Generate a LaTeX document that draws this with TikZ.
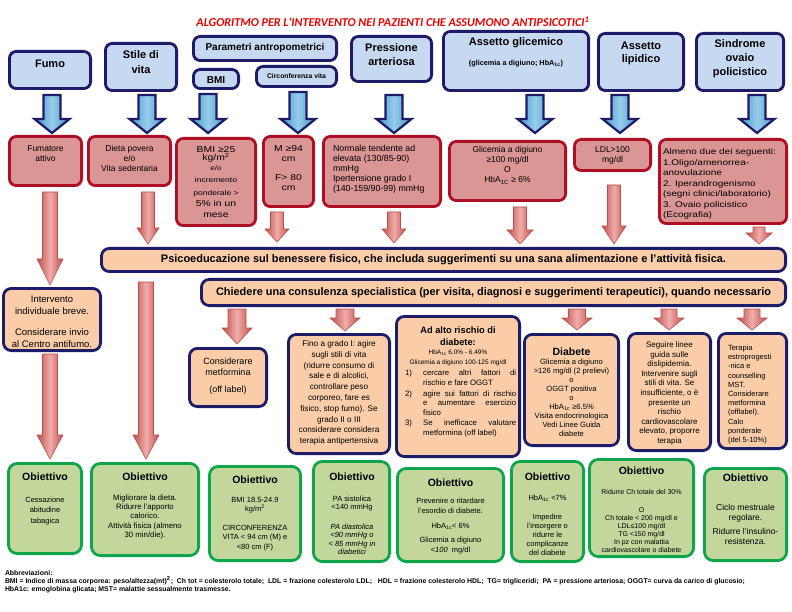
\documentclass[tikz,border=0pt]{standalone}
\usepackage{fontspec}
\setmainfont{Liberation Sans}
\newfontfamily\titlefont{Carlito}
\newfontfamily\widefont[FakeStretch=1.22]{Liberation Sans}
\usepackage{graphicx}
\newcommand\fsz[2]{\fontsize{#1}{#2}\selectfont}
\newlength\abw
\definecolor{navy}{RGB}{28,28,105}
\definecolor{bluef}{RGB}{198,217,241}
\definecolor{blA}{RGB}{70,150,200}
\definecolor{blB}{RGB}{150,205,235}
\definecolor{redb}{RGB}{175,15,35}
\definecolor{redf}{RGB}{218,150,148}
\definecolor{raA}{RGB}{190,78,75}
\definecolor{raB}{RGB}{240,172,168}
\definecolor{peach}{RGB}{250,205,168}
\definecolor{greenf}{RGB}{195,214,155}
\definecolor{greenb}{RGB}{15,165,75}
\definecolor{titred}{RGB}{235,0,0}
\newcommand\abtext{BMI = Indice di massa corporea: peso/altezza(mt)\textsuperscript{2}; \ Ch tot = colesterolo totale; \ LDL = frazione colesterolo LDL; \ \ HDL = frazione colesterolo HDL; \ TG= trigliceridi; \ PA = pressione arteriosa; OGGT= curva da carico di glucosio;}
% box: style, name, x1, y1, x2, y2 (outer edges, image pixels)
\newcommand\BX[6]{\node[#1, minimum width={(#5-#3-2.8)*1pt}, minimum height={(#6-#4-2.8)*1pt}] (#2) at ({(#3+#5)/2},{(#4+#6)/2}) {};}
% block arrow: style, x, ytop, ytip, shaft half, head half, head length
\newcommand\BA[7]{\path[#1] ({#2-#5},#3) -- ({#2+#5},#3) -- ({#2+#5},{#4-#7}) -- ({#2+#6},{#4-#7}) -- (#2,#4) -- ({#2-#6},{#4-#7}) -- ({#2-#5},{#4-#7}) -- cycle;}
\begin{document}
\settowidth\abw{\bfseries\fsz{6}{7}\abtext}
\pgfmathsetmacro\absc{740/\abw}
\begin{tikzpicture}[x=1pt,y=-1pt,
  bbox/.style={draw=navy, fill=bluef, line width=2.8pt, rounded corners=7pt, inner sep=0pt},
  rbox/.style={draw=redb, fill=redf, line width=2.8pt, rounded corners=7pt, inner sep=0pt},
  pbox/.style={draw=navy, fill=peach, line width=2.8pt, rounded corners=8pt, inner sep=0pt},
  gbox/.style={draw=greenb, fill=greenf, line width=2.8pt, rounded corners=9pt, inner sep=0pt},
  barrow/.style={draw=navy, line width=2.2pt, line join=miter, left color=blA, right color=blA, middle color=blB},
  rarrow/.style={draw=raA, line width=0.6pt, line join=miter, left color=raA, right color=raA, middle color=raB},
  tx/.style={inner sep=0pt, outer sep=0pt, align=center, text=black},
  obj/.style={tx, font=\bfseries\fsz{10.5}{12}}]
\useasboundingbox (0,0) rectangle (792,612);
\fill[white] (0,0) rectangle (792,612);

% title
\node[tx, text=titred] (title) at (393,22) {\resizebox{393pt}{!}{\titlefont\bfseries\itshape ALGORITMO PER L'INTERVENTO NEI PAZIENTI CHE ASSUMONO ANTIPSICOTICI\textsuperscript{1}}};

% top row
\BX{bbox}{T1}{8}{50}{92}{90}
\BX{bbox}{T2}{104}{42}{178}{92}
\BX{bbox}{T3}{192}{35}{338}{62}
\BX{bbox}{T4}{192}{68}{240}{90}
\BX{bbox}{T5}{255}{65}{338}{88}
\BX{bbox}{T6}{350}{35}{433}{83}
\BX{bbox}{T7}{442}{30}{590}{92}
\BX{bbox}{T8}{597}{32}{685}{92}
\BX{bbox}{T9}{695}{32}{785}{92}
\node[tx,font=\bfseries\fsz{11}{14}] (t1) at (50,64) {Fumo};
\node[tx,font=\bfseries\fsz{11}{15}] (t2) at (141,62.5) {Stile di\\vita};
\node[tx,font=\bfseries\fsz{10}{12}] (t3) at (265,48) {Parametri antropometrici};
\node[tx,font=\bfseries\fsz{10}{12}] (t4) at (216,80) {BMI};
\node[tx,font=\bfseries\fsz{6.8}{8}] (t5) at (296.5,76) {Circonferenza vita};
\node[tx,font=\bfseries\fsz{11}{14}] (t6) at (391.5,55) {Pressione\\arteriosa};
\node[tx,font=\bfseries\fsz{11}{13}] (t7) at (516,43) {Assetto glicemico};
\node[tx,font=\bfseries\fsz{7.3}{8}] (t7b) at (516,64) {(glicemia a digiuno; HbA\textsubscript{1c})};
\node[tx,font=\bfseries\fsz{11}{13.5}] (t8) at (641,53.5) {Assetto\\lipidico};
\node[tx,font=\bfseries\fsz{11}{14}] (t9) at (740,59) {Sindrome\\ovaio\\policistico};

% blue arrows
\BA{barrow}{52}{95}{133}{8.5}{17.5}{14}
\BA{barrow}{147}{95}{133}{8.5}{17.5}{14}
\BA{barrow}{208}{94}{133}{8.5}{17.5}{14}
\BA{barrow}{298}{92}{133}{8.5}{17.5}{14}
\BA{barrow}{394}{95}{133}{8.5}{17.5}{14}
\BA{barrow}{535}{95}{133}{8.5}{17.5}{14}
\BA{barrow}{620}{95}{133}{8.5}{17.5}{14}
\BA{barrow}{757}{95}{133}{8.5}{17.5}{14}

% red row
\BX{rbox}{R1}{8}{135}{83}{187}
\BX{rbox}{R2}{87}{135}{172}{187}
\BX{rbox}{R3}{175}{137}{257}{227}
\BX{rbox}{R4}{262}{135}{315}{208}
\BX{rbox}{R5}{322}{135}{442}{208}
\BX{rbox}{R6}{448}{140}{567}{202}
\BX{rbox}{R7}{573}{138}{652}{172}
\BX{rbox}{R8}{658}{138}{788}{225}
\node[tx,anchor=north,font=\fsz{8.5}{9.8}] (r1) at (45.5,145.6) {Fumatore\\attivo};
\node[tx,anchor=north,font=\fsz{8.5}{9.8}] (r2) at (129.5,145.6) {Dieta povera\\e/o\\Vita sedentaria};
\node[tx,anchor=north,font=\widefont\fsz{8.5}{10}] (r3) at (216,146.6) {BMI ≥25\\[-2pt]kg/m\textsuperscript{2}\\{\fsz{6.5}{8}e/o}\\[2pt]{\fsz{7}{9}incremento}\\[3pt]{\fsz{7}{9}ponderale >}\\[1pt]5\% in un\\[1pt]mese};
\node[tx,anchor=north,font=\widefont\fsz{8.5}{9.5}] (r4) at (288.5,145.6) {M ≥94\\cm\\[10pt]F> 80\\cm};
\node[tx,anchor=north west,align=left,font=\fsz{8.8}{10}] (r5) at (333,145.6) {Normale tendente ad\\elevata (130/85-90)\\mmHg\\Ipertensione grado I\\(140-159/90-99) mmHg};
\node[tx,anchor=north,font=\fsz{8.5}{10}] (r6) at (507.5,146.6) {Glicemia a digiuno\\≥100 mg/dl\\O\\HbA\textsubscript{1C} ≥ 6\%};
\node[tx,anchor=north,font=\fsz{8.5}{10}] (r7) at (612.5,146.6) {LDL>100\\mg/dl};
\node[tx,anchor=north west,align=left,font=\widefont\fsz{8.2}{10.5}] (r8) at (663,148.6) {Almeno due dei seguenti:\\1.Oligo/amenorrea-\\anovulazione\\2. Iperandrogenismo\\(segni clinici/laboratorio)\\3. Ovaio policistico\\(Ecografia)};

% bars
\BX{pbox}{P1}{100}{247}{787}{273}
\BX{pbox}{P2}{200}{278}{787}{307}
\node[tx] (p1t) at (P1) {\resizebox{565pt}{!}{\bfseries Psicoeducazione sul benessere fisico, che includa suggerimenti su una sana alimentazione e l'attività fisica.}};
\node[tx] (p2t) at (P2) {\resizebox{555pt}{!}{\bfseries Chiedere una consulenza specialistica (per visita, diagnosi e suggerimenti terapeutici), quando necessario}};

% second row
\BX{pbox}{S0}{2}{287}{102}{352}
\BX{pbox}{S1}{188}{347}{268}{408}
\BX{pbox}{S2}{287}{333}{391}{455}
\BX{pbox}{S3}{395}{315}{521}{458}
\BX{pbox}{S4}{523}{333}{620}{447}
\BX{pbox}{S5}{627}{332}{712}{452}
\BX{pbox}{S6}{717}{332}{788}{450}
\node[tx,anchor=north,font=\fsz{9.5}{12}] (s0) at (52,296.2) {Intervento\\individuale breve.\\[9pt]Considerare invio\\al Centro antifumo.};
\node[tx,anchor=north,font=\fsz{9}{10.5}] (s1) at (228,358.4) {Considerare\\metformina\\[6.5pt](off label)};
\node[tx,anchor=north,font=\fsz{8.2}{10.8}] (s2) at (339,340.5) {Fino a grado I: agire\\sugli stili di vita\\(ridurre consumo di\\sale e di alcolici,\\controllare peso\\corporeo, fare es\\fisico, stop fumo). Se\\grado II o III\\considerare considera\\terapia antipertensiva};
\node[tx,anchor=north,font=\bfseries\fsz{9.3}{12}] (s3a) at (458,326.3) {Ad alto rischio di\\diabete:};
\node[tx,anchor=north,font=\fsz{6.5}{10}] (s3b) at (458,349.4) {HbA\textsubscript{1c} 6.0\% - 6.49\%\\Glicemia a digiuno 100-125 mg/dl};
\node[tx,anchor=north west,font=\fsz{7.8}{9.8}] (n1) at (405,369.9) {1)};
\node[tx,anchor=north west,font=\fsz{7.8}{9.8}] (n2) at (405,390.9) {2)};
\node[tx,anchor=north west,font=\fsz{7.8}{9.8}] (n3) at (405,419.9) {3)};
\node[anchor=north west,inner sep=0pt,text width=93pt,align=justify,font=\fsz{7.8}{9.5}] (l1) at (423,369.9) {cercare altri fattori di\linebreak rischio e fare OGGT};
\node[anchor=north west,inner sep=0pt,text width=93pt,align=justify,font=\fsz{7.8}{9.2}] (l2) at (423,390.9) {agire sui fattori di rischio\linebreak e aumentare esercizio\linebreak fisico};
\node[anchor=north west,inner sep=0pt,text width=93pt,align=justify,font=\fsz{7.8}{10}] (l3) at (423,419.9) {Se inefficace valutare\linebreak metformina (off label)};
\node[tx,anchor=north,font=\bfseries\fsz{10.5}{12}] (s4a) at (571.5,347.8) {Diabete};
\node[tx,anchor=north,font=\fsz{7.6}{9}] (s4b) at (571.5,359) {Glicemia a digiuno\\>126 mg/dl (2 prelievi)\\o\\OGGT positiva\\o\\HbA\textsubscript{1c} ≥6.5\%\\Visita endocrinologica\\Vedi Linee Guida\\diabete};
\node[tx,anchor=north,font=\fsz{8}{9.6}] (s5) at (669.5,341.8) {Seguire linee\\guida sulle\\dislipidemia.\\Intervenire sugli\\stili di vita. Se\\insufficiente, o è\\presente un\\rischio\\cardiovascolare\\elevato, proporre\\terapia};
\node[tx,anchor=north west,align=left,font=\fsz{7.5}{9.2}] (s6) at (728,345) {Terapia\\estroprogesti\\-nica e\\counselling\\MST.\\Considerare\\metformina\\(offlabel).\\Calo\\ponderale\\(del 5-10\%)};

% red arrows
\BA{rarrow}{50}{192}{285}{7.5}{13}{26}
\BA{rarrow}{148}{192}{244}{6.5}{11}{16}
\BA{rarrow}{277}{212}{242}{6.5}{12}{13}
\BA{rarrow}{394}{212}{243}{6.5}{12}{14}
\BA{rarrow}{520}{207}{244}{6.5}{13}{14}
\BA{rarrow}{614}{185}{244}{6.5}{12}{18}
\BA{rarrow}{759}{227}{244}{6}{13}{11}
\BA{rarrow}{146}{282}{459}{7.5}{13}{24}
\BA{rarrow}{50}{354}{459}{7.5}{13}{24}
\BA{rarrow}{237}{309}{344}{9}{15}{16}
\BA{rarrow}{345}{309}{331}{9}{15}{13}
\BA{rarrow}{577}{309}{330}{8.5}{15}{12}
\BA{rarrow}{669}{309}{330}{8}{15}{12}
\BA{rarrow}{752}{309}{330}{8}{15}{12}

% green row
\BX{gbox}{G1}{7}{462}{83}{555}
\BX{gbox}{G2}{90}{462}{200}{557}
\BX{gbox}{G3}{208}{465}{302}{562}
\BX{gbox}{G4}{312}{460}{391}{563}
\BX{gbox}{G5}{396}{467}{505}{563}
\BX{gbox}{G6}{510}{460}{585}{563}
\BX{gbox}{G7}{588}{458}{695}{558}
\BX{gbox}{G8}{703}{467}{788}{562}
\node[obj] (o1) at (45,477) {Obiettivo};
\node[obj] (o2) at (145,477) {Obiettivo};
\node[obj] (o3) at (255,480) {Obiettivo};
\node[obj] (o4) at (352,477) {Obiettivo};
\node[obj] (o5) at (450.5,483) {Obiettivo};
\node[obj] (o6) at (547.5,477) {Obiettivo};
\node[obj] (o7) at (641.5,471) {Obiettivo};
\node[obj] (o8) at (745.5,478) {Obiettivo};
\node[tx,anchor=north,font=\fsz{7.5}{10.5}] (g1) at (45,497) {Cessazione\\abitudine\\tabagica};
\node[tx,anchor=north,font=\fsz{7.8}{9}] (g2) at (145,494.9) {Migliorare la dieta.\\Ridurre l'apporto\\calorico.\\[1pt]Attività fisica (almeno\\30 min/die).};
\node[tx,anchor=north,font=\fsz{7.5}{9.5}] (g3) at (255,497) {BMI 18.5-24.9\\kg/m\textsuperscript{2}\\[9pt]CIRCONFERENZA\\VITA < 94 cm (M) e\\<80 cm (F)};
\node[tx,anchor=north,font=\fsz{7.5}{8.5}] (g4) at (352,496) {PA sistolica\\<140 mmHg\\[11pt]\textit{PA diastolica}\\\textit{<90 mmHg o}\\\textit{< 85 mmHg in}\\\textit{diabetici}};
\node[tx,anchor=north,font=\fsz{7.5}{10}] (g5) at (450.5,498) {Prevenire o ritardare\\l'esordio di diabete.\\[5pt]HbA\textsubscript{1c}< 6\%\\[4.5pt]Glicemia a digiuno\\<\textit{100}\ \ mg/dl};
\node[tx,anchor=north,font=\fsz{7.5}{9}] (g6) at (547.5,495) {HbA\textsubscript{1c} <7\%\\[10pt]Impedire\\l'insorgere o\\ridurre le\\complicanze\\del diabete};
\node[tx,anchor=north,font=\fsz{7}{8}] (g7) at (641.5,489.2) {Ridurre Ch totale del 30\%\\[10pt]O\\Ch totale < 200 mg/dl e\\LDL≤100 mg/dl\\TG <150 mg/dl\\In pz con malattia\\cardiovascolare o diabete};
\node[tx,anchor=north,font=\fsz{8.5}{10}] (g8) at (745.5,504.6) {Ciclo mestruale\\regolare.\\[4pt]Ridurre l'insulino-\\resistenza.};

% abbreviations
\node[tx,anchor=west] (ab1) at (5,573) {\scalebox{\absc}{\bfseries\fsz{6}{7}Abbreviazioni:}};
\node[tx,anchor=west] (ab2) at (5,581) {\scalebox{\absc}{\bfseries\fsz{6}{7}\abtext}};
\node[tx,anchor=west] (ab3) at (5,589.5) {\scalebox{\absc}{\bfseries\fsz{6}{7}HbA1c: emoglobina glicata; MST= malattie sessualmente trasmesse.}};
\end{tikzpicture}
\end{document}
